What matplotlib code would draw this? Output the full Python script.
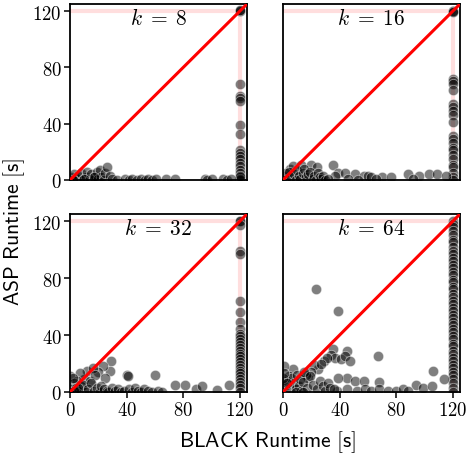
import matplotlib
matplotlib.use("Agg")
import matplotlib.pyplot as plt

plt.rcParams['mathtext.fontset'] = 'cm'

ks = [8, 16, 32, 64]

# k = 8
x8 = [120, 120, 120, 120, 120, 120, 120, 120, 120, 120, 120, 120, 120, 120, 120, 120, 120, 120, 120, 120, 120,
      1, 3, 5, 6, 8, 9, 11, 12, 14, 15, 16, 18, 19, 20, 21, 22, 24, 25, 26, 28, 30, 33,
      39, 42, 44, 47, 50, 53, 55, 58, 61, 68, 74, 95, 97, 100, 108, 111, 114, 2, 10, 17]
y8 = [120, 120, 121, 68, 60, 58, 56, 39, 33, 21, 19, 17, 15, 12, 10, 7, 5, 2, 0, 1, 3,
      2, 4, 1, 3, 5, 0, 2, 6, 1, 4, 0, 3, 6, 1, 7, 2, 0, 5, 9, 3, 1, 0,
      1, 0, 1, 0, 1, 0, 1, 0, 1, 1, 1, 1, 0, 1, 1, 0, 1, 0, 1, 2]

# k = 16
x16 = [120, 120, 120, 120, 120, 120, 120, 120, 120, 120, 120, 120, 120, 120, 120, 120, 120, 120, 120, 120, 120, 120, 120, 120,
       5, 7, 13, 20, 24, 35, 39, 44, 37, 51, 57, 60, 62, 70, 76, 88, 96, 103, 109, 115,
       1, 2, 3, 4, 6, 8, 9, 10, 11, 12, 14, 15, 16, 17, 18, 19, 21, 22, 23, 25, 26, 27, 28, 30, 32, 46, 53, 66, 92]
y16 = [120, 120, 119, 72, 70, 68, 64, 54, 52, 49, 46, 41, 31, 29, 26, 23, 21, 18, 15, 11, 9, 5, 2, 0,
       8, 10, 11, 11, 9.5, 11, 5, 5, 3, 4, 3, 3, 2, 2, 2, 4, 3, 4, 4, 3,
       3, 5, 1, 6, 2, 4, 0, 7, 3, 1, 5, 8, 2, 0, 4, 6, 1, 3, 0, 5, 2, 1, 3, 0, 1, 1, 0, 1, 1]

# k = 32
x32 = [120, 120, 120, 120, 120, 120, 120, 120, 120, 120, 120, 120, 120, 120, 120, 120, 120, 120, 120, 120, 120, 120, 120, 120, 120, 120, 120, 120, 120, 120,
       29, 28, 23, 20, 40, 41, 60, 74, 81, 89, 93, 104, 112, 0, 12, 16, 10, 7, 5, 3, 2, 8, 14, 18, 25,
       1, 4, 6, 9, 11, 13, 15, 17, 19, 21, 22, 24, 26, 27, 30, 32, 34, 36, 38, 42, 44, 46, 48, 50, 52, 55, 58, 62, 65, 1, 3, 6]
y32 = [120, 120, 117, 99, 97, 64, 56, 49, 44, 41, 39, 37, 35, 33, 31, 29, 27, 25, 23, 21, 19, 17, 15, 13, 11, 9, 7, 5, 3, 0,
       22, 15, 18, 14, 12, 11, 12, 5, 5, 2, 4, 1.5, 5, 11, 15, 17, 9, 13, 8, 6, 10, 4, 8, 12, 10,
       2, 3, 1, 5, 0, 2, 6, 1, 3, 0, 4, 2, 1, 0, 3, 1, 2, 0, 1, 2, 0, 3, 1, 0, 2, 1, 0, 1, 0, 0, 1, 3]

# k = 64
x64 = [120] * 48 + [
       23, 39, 67, 35.5, 45, 34, 37, 41, 44, 47, 29, 31, 25, 22, 20, 18, 16, 27, 7, 1, 4, 45, 39, 51, 57, 67.5,
       106, 114, 94, 99, 105, 38, 45, 52, 58, 62, 68, 74, 80, 85, 88,
       2, 3, 5, 6, 8, 9, 10, 11, 12, 13, 14, 15, 17, 19, 21, 24, 26, 28, 30, 32, 33, 36, 0, 1, 3, 9, 14]
y64 = [120, 118, 116, 113, 110, 107, 105, 102, 99, 97, 94, 92, 89, 87, 84, 82, 79, 77, 74, 72, 69, 67, 64, 62,
       59, 57, 54, 52, 49, 47, 44, 42, 39, 37, 34, 32, 29, 27, 24, 22, 19, 17, 14, 12, 9, 6, 3, 0] + [
       72, 57, 25, 30, 29, 26, 24, 23, 25, 22, 22, 24, 16, 19, 14, 10, 12, 20, 16, 18, 11, 10, 10, 8, 8, 7,
       15, 9, 5, 3, 4, 1, 2, 1, 2, 1, 2, 1, 1, 2, 1,
       5, 8, 3, 10, 6, 2, 12, 4, 9, 1, 7, 14, 3, 11, 5, 2, 8, 4, 1, 6, 3, 2, 10, 13, 6, 0, 0]

data = [(x8, y8), (x16, y16), (x32, y32), (x64, y64)]

ticks = [0, 40, 80, 120]
tick_labels = ['$0$', '$40$', '$80$', '$120$']
lim = (0, 125)

fig = plt.figure(figsize=(4.69, 4.64), dpi=100)
W, H = 469, 464
boxes = [(70, 5, 247, 181), (283, 5, 460, 181), (70, 215, 247, 393), (283, 215, 460, 393)]

for i, (k, (xs, ys), b) in enumerate(zip(ks, data, boxes)):
    l, t, r, bt = b
    ax = fig.add_axes([l / W, 1 - bt / H, (r - l) / W, (bt - t) / H])
    ax.set_xlim(*lim)
    ax.set_ylim(*lim)
    ax.plot([0, 120], [120, 120], color='red', alpha=0.13, lw=3, zorder=1)
    ax.plot([120, 120], [0, 120], color='red', alpha=0.13, lw=3, zorder=1)
    ax.scatter(xs, ys, s=55, c='black', alpha=0.5, edgecolors='white', linewidths=0.6, zorder=2, clip_on=True)
    ax.plot([0, 125], [0, 125], color='red', lw=2.2, zorder=3)
    ax.text(0.5, 0.925, r'$k\;=\;%d$' % k, transform=ax.transAxes, ha='center', va='center', fontsize=15.5)
    for s in ax.spines.values():
        s.set_linewidth(1.3)
    ax.tick_params(direction='out', length=4, width=1.1, labelsize=13.5, pad=2)
    if i >= 2:
        ax.set_xticks(ticks)
        ax.set_xticklabels(tick_labels)
    else:
        ax.set_xticks([])
    if i % 2 == 0:
        ax.set_yticks(ticks)
        ax.set_yticklabels(tick_labels)
    else:
        ax.set_yticks([])

fig.text(14 / W, 1 - 232 / H, r'$\mathsf{ASP\ Runtime\ [s]}$', rotation=90, ha='center', va='center', fontsize=15.5)
fig.text(267 / W, 1 - 442 / H, r'$\mathsf{BLACK\ Runtime\ [s]}$', ha='center', va='center', fontsize=15.5)

fig.savefig('out.png', dpi=100)
